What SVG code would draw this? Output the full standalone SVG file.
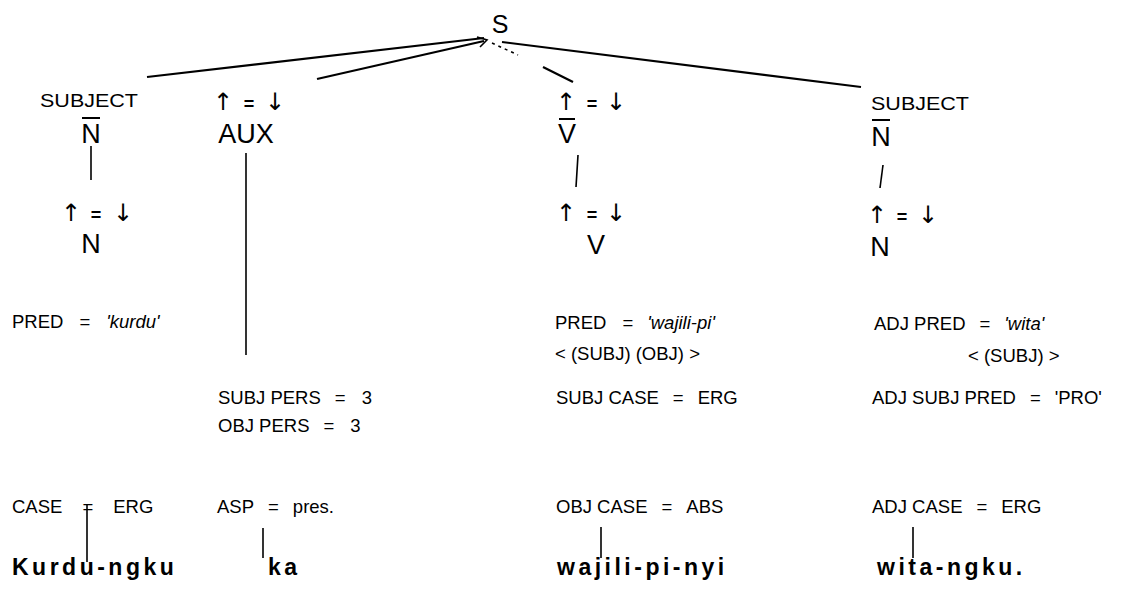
<svg xmlns="http://www.w3.org/2000/svg" width="1146" height="594" viewBox="0 0 1146 594">
<style>
text{font-family:"Liberation Sans",Arial,sans-serif;fill:#000}
.lab{font-size:19px}
.cat{font-size:27px}
.s{font-size:25px}
.ar{font-family:"DejaVu Sans",sans-serif;font-size:24px}
.eq{font-family:"Liberation Sans",Arial,sans-serif;font-size:18px;font-weight:bold}
.f{font-size:18.5px}
.it{font-style:italic}
.w{font-size:23px;font-weight:bold;letter-spacing:3.5px}
.ln{stroke:#000;stroke-width:2.2;fill:none}
.th{stroke:#000;stroke-width:1.6;fill:none}
.bar{stroke:#000;stroke-width:2;fill:none}
</style>
<rect width="1146" height="594" fill="#fff"/>
<g id="connectors">
<line class="ln" x1="484" y1="38" x2="147" y2="77"/>
<line class="ln" x1="484" y1="41" x2="317" y2="79"/>
<polyline class="th" points="477,37 487,40 480,47"/>
<line class="th" x1="492" y1="43" x2="518" y2="55" stroke-dasharray="3,4"/>
<line class="ln" x1="543" y1="67" x2="573" y2="82"/>
<line class="ln" x1="502" y1="42" x2="861" y2="87"/>
<line class="th" x1="91" y1="146" x2="91" y2="180"/>
<line class="th" x1="246" y1="153" x2="246" y2="355"/>
<line class="th" x1="578" y1="155" x2="576" y2="187"/>
<line class="th" x1="883" y1="165" x2="880" y2="188"/>
<line class="th" x1="87" y1="505" x2="87" y2="562"/>
<line class="th" x1="263" y1="528" x2="263" y2="558"/>
<line class="th" x1="601" y1="527" x2="601" y2="558"/>
<line class="th" x1="913" y1="527" x2="913" y2="558"/>
</g>
<g id="S"><text class="s" x="500" y="33" text-anchor="middle">S</text></g>
<g id="subj-left">
<text class="lab" x="40" y="107" textLength="98" lengthAdjust="spacingAndGlyphs">SUBJECT</text>
<text class="cat" x="91" y="143" text-anchor="middle">N</text>
<line class="bar" x1="82" y1="118" x2="100" y2="118"/>
<text x="71" y="221"><tspan class="ar" x="71" text-anchor="middle">↑</tspan><tspan class="eq" x="96" text-anchor="middle">=</tspan><tspan class="ar" x="123" text-anchor="middle">↓</tspan></text>
<text class="cat" x="91" y="253" text-anchor="middle">N</text>
<text class="f" x="12" y="328">PRED<tspan dx="16">=</tspan><tspan class="it" dx="16">'kurdu'</tspan></text>
<text class="f" x="12" y="513">CASE<tspan dx="20">=</tspan><tspan dx="20">ERG</tspan></text>
<text class="w" x="12" y="575">Kurdu-ngku</text>
</g>
<g id="aux">
<text x="223" y="110"><tspan class="ar" x="223" text-anchor="middle">↑</tspan><tspan class="eq" x="249" text-anchor="middle">=</tspan><tspan class="ar" x="275" text-anchor="middle">↓</tspan></text>
<text class="cat" x="246" y="143" text-anchor="middle">AUX</text>
<text class="f" x="218" y="404">SUBJ PERS<tspan dx="14">=</tspan><tspan dx="16">3</tspan></text>
<text class="f" x="218" y="432">OBJ PERS<tspan dx="14">=</tspan><tspan dx="16">3</tspan></text>
<text class="f" x="217" y="513">ASP<tspan dx="14">=</tspan><tspan dx="14">pres.</tspan></text>
<text class="w" x="268" y="575">ka</text>
</g>
<g id="vbar">
<text x="566" y="110"><tspan class="ar" x="566" text-anchor="middle">↑</tspan><tspan class="eq" x="592" text-anchor="middle">=</tspan><tspan class="ar" x="616" text-anchor="middle">↓</tspan></text>
<text class="cat" x="567" y="143" text-anchor="middle">V</text>
<line class="bar" x1="559" y1="119" x2="575" y2="119"/>
<text x="566" y="221"><tspan class="ar" x="566" text-anchor="middle">↑</tspan><tspan class="eq" x="592" text-anchor="middle">=</tspan><tspan class="ar" x="616" text-anchor="middle">↓</tspan></text>
<text class="cat" x="596" y="254" text-anchor="middle">V</text>
<text class="f" x="555" y="329">PRED<tspan dx="16">=</tspan><tspan class="it" dx="14">'wajili-pi'</tspan></text>
<text class="f" x="555" y="360">&lt; (SUBJ) (OBJ) &gt;</text>
<text class="f" x="556" y="404">SUBJ CASE<tspan dx="14">=</tspan><tspan dx="14">ERG</tspan></text>
<text class="f" x="556" y="513">OBJ CASE<tspan dx="14">=</tspan><tspan dx="14">ABS</tspan></text>
<text class="w" x="557" y="575">wajili-pi-nyi</text>
</g>
<g id="subj-right">
<text class="lab" x="871" y="110" textLength="98" lengthAdjust="spacingAndGlyphs">SUBJECT</text>
<text class="cat" x="881" y="146" text-anchor="middle">N</text>
<line class="bar" x1="872" y1="120" x2="890" y2="120"/>
<text x="877" y="223"><tspan class="ar" x="877" text-anchor="middle">↑</tspan><tspan class="eq" x="902" text-anchor="middle">=</tspan><tspan class="ar" x="928" text-anchor="middle">↓</tspan></text>
<text class="cat" x="880" y="256" text-anchor="middle">N</text>
<text class="f" x="874" y="330">ADJ PRED<tspan dx="14">=</tspan><tspan class="it" dx="14">'wita'</tspan></text>
<text class="f" x="968" y="362">&lt; (SUBJ) &gt;</text>
<text class="f" x="872" y="404">ADJ SUBJ PRED<tspan dx="14">=</tspan><tspan dx="14">'PRO'</tspan></text>
<text class="f" x="872" y="513">ADJ CASE<tspan dx="14">=</tspan><tspan dx="14">ERG</tspan></text>
<text class="w" x="877" y="575">wita-ngku.</text>
</g>
</svg>
